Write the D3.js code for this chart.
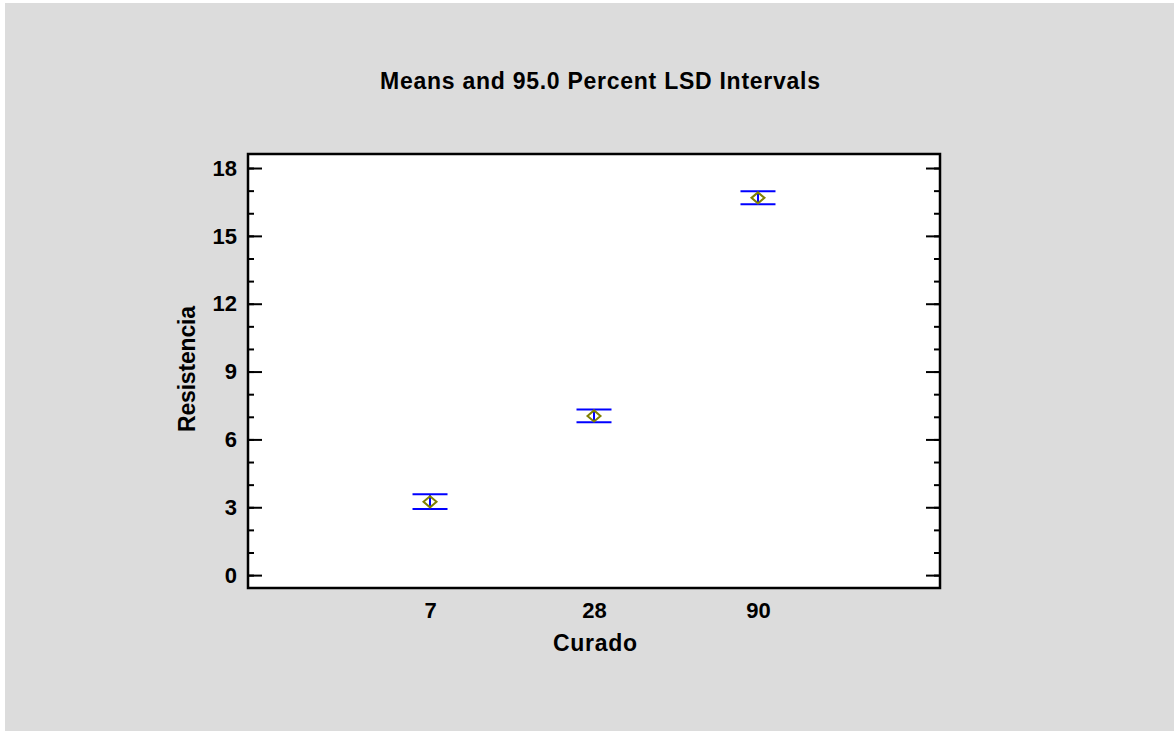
<!DOCTYPE html>
<html>
<head>
<meta charset="utf-8">
<script src="https://cdn.jsdelivr.net/npm/d3@7"></script>
<style>
  html, body { margin: 0; padding: 0; background: #ffffff; }
  svg { display: block; }
  text { font-family: "Liberation Sans", Arial, sans-serif; font-weight: bold; fill: #000; }
</style>
</head>
<body>
<svg id="chart" width="1174" height="731"></svg>
<script>
const categories = ["7", "28", "90"];
const means = [3.24, 7.04, 16.68];
const lower = [2.92, 6.76, 16.40];
const upper = [3.57, 7.32, 16.97];
const yMajorTicks = [0, 3, 6, 9, 12, 15, 18];
const yMinorTicks = d3.range(0, 19, 1);

const title = "Means and 95.0 Percent LSD Intervals";
const xLabel = "Curado";
const yLabel = "Resistencia";

const FONT = "'Liberation Sans', Arial, sans-serif";
const svg = d3.select("#chart");
const W = 1174, H = 731;
const plot = { left: 248, top: 154, right: 940, bottom: 588 };

svg.append("rect").attr("x", 5).attr("y", 3).attr("width", W - 5).attr("height", H - 3)
  .attr("fill", "#dcdcdc");

svg.append("rect").attr("x", plot.left).attr("y", plot.top)
  .attr("width", plot.right - plot.left).attr("height", plot.bottom - plot.top)
  .attr("fill", "#ffffff");

const x = d3.scalePoint().domain(categories).range([plot.left, plot.right]).padding(1.11);
const y = d3.scaleLinear().domain([-0.57, 18.62]).range([plot.bottom, plot.top]);

function ticks(g, axisFn, vals, size) {
  g.call(axisFn(y).tickValues(vals).tickSize(size).tickFormat(""))
   .call(s => s.select(".domain").remove());
}
// Left axis ticks (inward)
ticks(svg.append("g").attr("transform", `translate(${plot.left},0)`), d3.axisRight, yMinorTicks, 6);
ticks(svg.append("g").attr("transform", `translate(${plot.left},0)`), d3.axisRight, yMajorTicks, 14);
// Right axis ticks (inward)
ticks(svg.append("g").attr("transform", `translate(${plot.right},0)`), d3.axisLeft, yMinorTicks, 6);
ticks(svg.append("g").attr("transform", `translate(${plot.right},0)`), d3.axisLeft, yMajorTicks, 14);
svg.selectAll(".tick line").attr("stroke", "#000").attr("stroke-width", 2);

// Left labels
svg.append("g").attr("transform", `translate(${plot.left},0)`)
  .call(d3.axisLeft(y).tickValues(yMajorTicks).tickSize(0).tickPadding(11).tickFormat(d3.format("d")))
  .call(g => g.select(".domain").remove())
  .call(g => g.selectAll("text").attr("dy", "0.33em")
    .style("font-size", "22px").style("font-family", FONT).style("font-weight", "bold"));

// X labels
svg.append("g").attr("transform", `translate(0,${plot.bottom})`)
  .call(d3.axisBottom(x).tickSize(0).tickPadding(14))
  .call(g => g.select(".domain").remove())
  .call(g => g.selectAll("text")
    .style("font-size", "22px").style("font-family", FONT).style("font-weight", "bold"));

// Frame
svg.append("rect").attr("x", plot.left).attr("y", plot.top)
  .attr("width", plot.right - plot.left).attr("height", plot.bottom - plot.top)
  .attr("fill", "none").attr("stroke", "#000").attr("stroke-width", 2.5);

// Error bars
const capHalf = 17.5;
const data = categories.map((c, i) => ({ c, m: means[i], lo: lower[i], hi: upper[i] }));
const eb = svg.append("g");
data.forEach(d => {
  const cx = x(d.c);
  eb.append("line").attr("x1", cx).attr("x2", cx).attr("y1", y(d.hi)).attr("y2", y(d.lo))
    .attr("stroke", "#0000ff").attr("stroke-width", 2);
  [d.hi, d.lo].forEach(v => {
    eb.append("line").attr("x1", cx - capHalf).attr("x2", cx + capHalf).attr("y1", y(v)).attr("y2", y(v))
      .attr("stroke", "#0000ff").attr("stroke-width", 2);
  });
  const cy = y(d.m);
  eb.append("path")
    .attr("d", `M${cx - 6.5},${cy} L${cx},${cy - 5.5} L${cx + 6.5},${cy} L${cx},${cy + 5.5} Z`)
    .attr("fill", "none").attr("stroke", "#808000").attr("stroke-width", 2);
});

// Titles
svg.append("text").attr("x", 600).attr("y", 89).attr("text-anchor", "middle")
  .attr("textLength", 440).attr("lengthAdjust", "spacing")
  .style("font-size", "23px").text(title);
svg.append("text").attr("x", 595).attr("y", 651).attr("text-anchor", "middle")
  .attr("textLength", 84).attr("lengthAdjust", "spacing")
  .style("font-size", "23px").text(xLabel);
svg.append("text").attr("transform", `translate(195,369) rotate(-90)`).attr("text-anchor", "middle")
  .attr("textLength", 126).attr("lengthAdjust", "spacing")
  .style("font-size", "23px").text(yLabel);
</script>
</body>
</html>
